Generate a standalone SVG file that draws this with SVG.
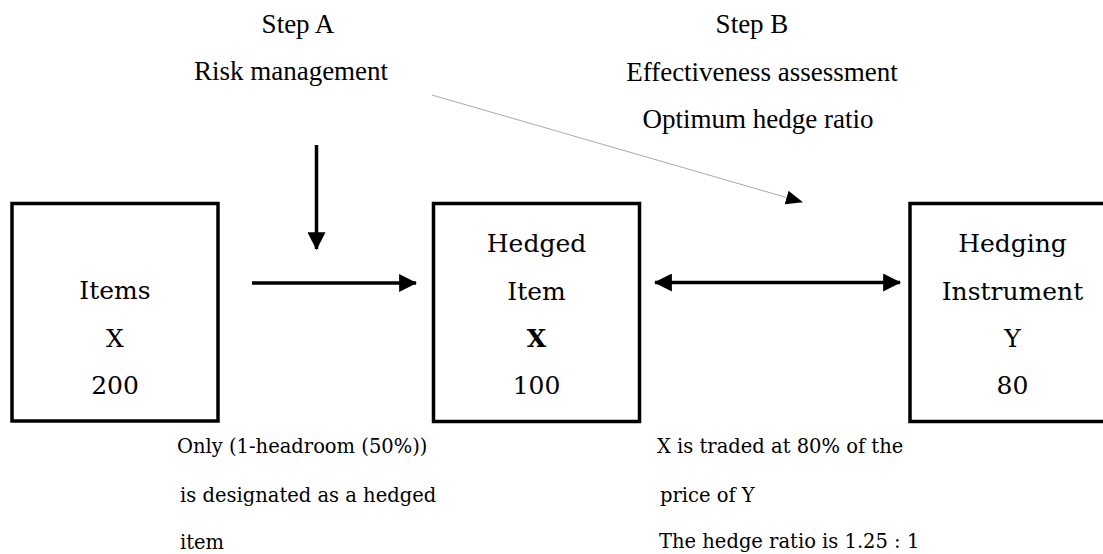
<svg xmlns="http://www.w3.org/2000/svg" width="1103" height="554" viewBox="0 0 1103 554">
<style>
.box{fill:#fff;stroke:#000;stroke-width:3.5}
.bt{font-family:"DejaVu Serif","Liberation Serif",serif;font-size:25px;text-anchor:middle;fill:#000}
.tt{font-family:"Liberation Serif","Times New Roman",serif;font-size:27px;text-anchor:middle;fill:#000}
.nt{font-family:"DejaVu Serif","Liberation Serif",serif;font-size:19.5px;fill:#000}
.arr{stroke:#000;stroke-width:3.5;fill:none}
</style>
<defs>
<marker id="ah" markerUnits="userSpaceOnUse" markerWidth="18" markerHeight="18" viewBox="0 0 16 16" refX="15" refY="8" orient="auto-start-reverse">
<path d="M0,0 L16,8 L0,16 Z" fill="#000"/>
</marker>
<marker id="ah2" markerUnits="userSpaceOnUse" markerWidth="17" markerHeight="14" viewBox="0 0 17 14" refX="16" refY="7" orient="auto">
<path d="M0,0 L17,7 L0,14 Z" fill="#000"/>
</marker>
</defs>
<rect width="1103" height="554" fill="#fff"/>
<g id="labels-top">
<text class="tt" x="298" y="33">Step A</text>
<text class="tt" x="291" y="80">Risk management</text>
<text class="tt" x="752" y="33">Step B</text>
<text class="tt" x="762" y="81">Effectiveness assessment</text>
<text class="tt" x="758" y="128">Optimum hedge ratio</text>
</g>
<g id="connectors">
<line class="arr" x1="316.5" y1="145" x2="316.5" y2="249" marker-end="url(#ah)"/>
<line class="arr" x1="252" y1="283" x2="416" y2="283" marker-end="url(#ah)"/>
<line class="arr" x1="655" y1="282.5" x2="900" y2="282.5" marker-start="url(#ah)" marker-end="url(#ah)"/>
<line x1="432" y1="95" x2="802" y2="202" stroke="#aaa" stroke-width="1" marker-end="url(#ah2)"/>
</g>
<g id="node-items">
<rect class="box" x="12" y="203.5" width="206" height="217.5"/>
<text class="bt" x="115" y="299">Items</text>
<text class="bt" x="115" y="347">X</text>
<text class="bt" x="115" y="394">200</text>
</g>
<g id="node-hedged-item">
<rect class="box" x="433.5" y="203.5" width="206" height="218"/>
<text class="bt" x="536.5" y="252">Hedged</text>
<text class="bt" x="536.5" y="300">Item</text>
<text class="bt" x="536.5" y="347" font-weight="bold">X</text>
<text class="bt" x="536.5" y="394">100</text>
</g>
<g id="node-hedging-instrument">
<rect class="box" x="910" y="203.5" width="196" height="218"/>
<text class="bt" x="1012.5" y="252">Hedging</text>
<text class="bt" x="1012.5" y="300">Instrument</text>
<text class="bt" x="1012.5" y="347">Y</text>
<text class="bt" x="1012.5" y="394">80</text>
</g>
<g id="note-left">
<text class="nt" x="177" y="453">Only (1-headroom (50%))</text>
<text class="nt" x="180" y="502">is designated as a hedged</text>
<text class="nt" x="180" y="549">item</text>
</g>
<g id="note-right">
<text class="nt" x="657" y="453">X is traded at 80% of the</text>
<text class="nt" x="660" y="502">price of Y</text>
<text class="nt" x="659" y="548">The hedge ratio is 1.25 : 1</text>
</g>
</svg>
